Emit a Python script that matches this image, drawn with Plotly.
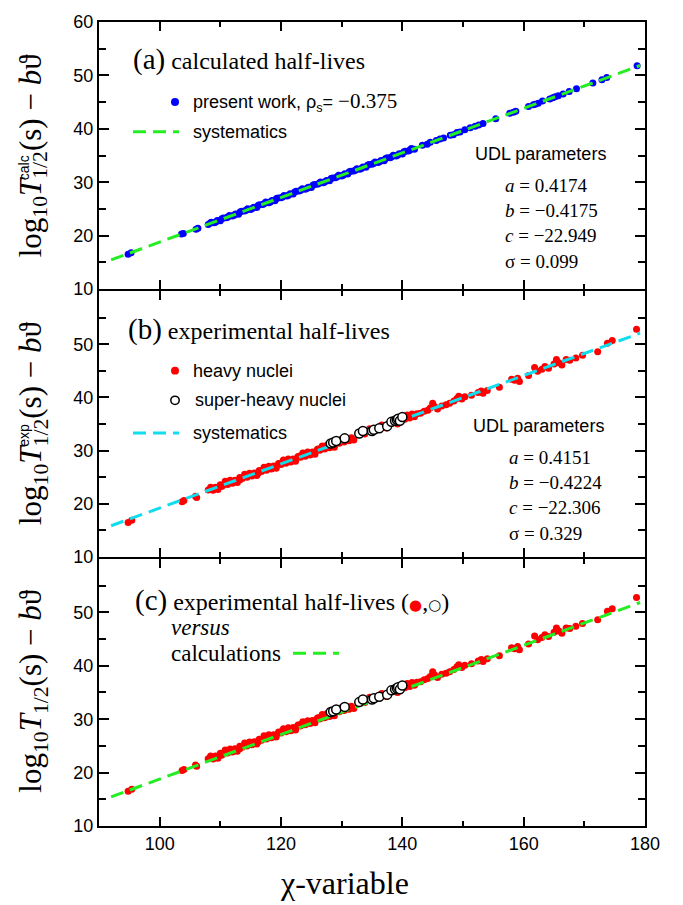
import plotly.graph_objects as go

# ---------------- data ----------------
# panel (a): calculated half-lives (chi, log10 T - b*theta)
calc_chi = [94.8, 95.3, 103.6, 103.9, 106.0, 106.3, 108.0, 108.3,
            108.5, 109.0, 109.5, 110.0, 110.5, 111.0, 111.5, 112.0, 112.5, 113.0, 113.5, 114.0,
            114.5, 115.0, 115.5, 116.0, 116.5, 117.0, 117.5, 118.0, 118.5, 119.0, 119.5, 120.0,
            120.5, 121.0, 121.5, 122.0, 122.5, 123.0, 123.5, 124.0, 124.5, 125.0, 125.5, 126.0,
            126.5, 127.0, 127.5, 128.0, 128.5, 129.0, 129.5, 130.0, 130.5, 131.0, 131.5, 132.0,
            132.5, 133.0, 133.5, 134.0, 134.5, 135.0, 135.5, 136.0, 136.5, 137.0, 137.5, 138.0,
            138.5, 139.0, 139.5, 140.0, 140.5, 141.0, 141.5, 142.0,
            109.25, 110.25, 111.25, 112.25, 113.25, 114.25, 115.25, 116.25, 117.25, 118.25,
            119.25, 120.25, 121.25, 122.25, 123.25, 124.25, 125.25, 126.25, 127.25, 128.25,
            129.25, 130.25, 131.25, 132.25, 133.25, 134.25, 135.25, 136.25, 137.25, 138.25,
            139.25, 140.25, 141.25,
            143.3, 144.1, 144.6, 145.6, 146.2, 146.8, 147.9, 148.4, 149.0, 149.5, 150.3, 151.2,
            152.0, 152.6, 153.3, 155.4, 157.7, 158.3, 158.7, 160.8, 161.6, 161.9, 162.4, 163.1,
            164.3, 164.8, 165.2, 165.7, 166.5, 167.5, 168.7, 171.4, 172.9, 173.7, 178.7]
calc_val = [16.5, 16.8, 20.3, 20.4, 21.2, 21.4, 22.1, 22.3,
            22.52, 22.40, 22.81, 22.77, 23.30, 23.34, 23.78, 23.65, 24.06, 24.02, 24.55, 24.59,
            25.03, 24.91, 25.32, 25.27, 25.80, 25.84, 26.28, 26.16, 26.57, 26.53, 27.06, 27.09,
            27.53, 27.41, 27.82, 27.78, 28.31, 28.35, 28.78, 28.66, 29.07, 29.03, 29.56, 29.60,
            30.04, 29.91, 30.32, 30.28, 30.81, 30.85, 31.29, 31.17, 31.57, 31.53, 32.06, 32.10,
            32.54, 32.42, 32.83, 32.78, 33.31, 33.35, 33.79, 33.67, 34.08, 34.04, 34.56, 34.60,
            35.04, 34.92, 35.33, 35.29, 35.82, 35.85, 36.29, 36.17,
            22.56, 23.18, 23.49, 23.81, 24.43, 24.74, 25.06, 25.68, 26.00, 26.31,
            26.93, 27.25, 27.56, 28.18, 28.50, 28.82, 29.43, 29.75, 30.07, 30.69,
            31.00, 31.32, 31.94, 32.25, 32.57, 33.19, 33.51, 33.82, 34.44, 34.76,
            35.08, 35.69, 36.01,
            36.9, 37.1, 37.5, 37.8, 38.1, 38.3, 38.8, 38.9, 39.3, 39.4, 39.8, 40.2,
            40.5, 40.7, 41.0, 41.9, 42.9, 43.1, 43.3, 44.2, 44.5, 44.6, 44.8, 45.2,
            45.6, 45.8, 46.0, 46.2, 46.5, 47.0, 47.5, 48.6, 49.2, 49.6, 51.8]

# experimental half-lives, heavy nuclei
heavy_chi = [94.8, 95.4, 103.7, 104.0, 105.9, 106.1, 108.0,
             108.4, 108.8, 109.2, 109.6, 110.0, 110.4, 110.8, 111.2, 111.6, 112.0, 112.4, 112.8,
             113.2, 113.6, 114.0, 114.4, 114.8, 115.2, 115.6, 116.0, 116.4, 116.8, 117.2, 117.6,
             118.0, 118.4, 118.8, 119.2, 119.6, 120.0, 120.4, 120.8, 121.2, 121.6, 122.0, 122.4,
             122.8, 123.2, 123.6, 124.0, 124.4, 124.8, 125.2, 125.6, 126.0, 126.4, 126.8, 127.2,
             127.6, 128.0, 128.4, 128.8, 129.2, 129.6, 130.0, 130.4, 130.8, 131.2, 131.6, 132.0,
             133.0, 133.8, 134.6, 135.6, 136.6, 137.4, 138.4, 139.2, 140.0, 140.4, 140.8, 141.2,
             141.6, 142.0, 142.4,
             110.2, 111.2, 112.2, 113.2, 114.2, 115.2, 116.2, 117.2, 118.2, 119.2, 120.2, 121.2,
             122.2, 123.2, 124.2, 125.2, 126.2, 127.2, 128.2, 129.2, 130.2, 131.2,
             143.0, 143.6, 144.2, 144.6, 145.0, 145.3, 145.8, 146.5, 147.2, 147.8, 148.5, 149.0,
             149.3, 149.8, 150.3, 151.4, 152.5, 153.0, 153.3, 154.0, 156.0, 158.0, 158.5, 159.0,
             159.3, 160.8, 161.8, 162.3, 163.0, 163.5, 164.1, 165.0, 165.4, 165.8, 166.3, 167.0,
             167.6, 168.6, 169.7, 172.2, 173.8, 174.6, 178.6]
heavy_val = [16.5, 16.9, 20.4, 20.6, 21.4, 21.2, 22.6,
             23.09, 22.55, 23.12, 22.68, 23.60, 23.42, 24.23, 23.65, 24.41, 23.88, 24.45, 24.01,
             24.93, 24.74, 25.56, 24.98, 25.74, 25.21, 25.77, 25.34, 26.26, 26.07, 26.89, 26.30,
             27.07, 26.54, 27.10, 26.67, 27.58, 27.40, 28.22, 27.63, 28.40, 27.86, 28.43, 28.00,
             28.91, 28.73, 29.54, 28.96, 29.73, 29.19, 29.76, 29.32, 30.24, 30.06, 30.87, 30.29,
             31.05, 30.52, 31.09, 30.65, 31.57, 31.38, 32.20, 31.62, 32.38, 31.85, 32.41, 31.98,
             33.15, 33.13, 34.12, 33.78, 34.80, 34.23, 35.25, 34.98, 36.06, 35.88, 36.69, 36.11,
             36.87, 36.34, 36.91,
             23.23, 24.05, 24.26, 24.48, 25.29, 25.51, 25.72, 26.54, 26.75, 26.97, 27.79, 28.00,
             28.22, 29.03, 29.25, 29.46, 30.28, 30.49, 30.71, 31.52, 31.74, 31.95,
             37.0, 37.4, 37.6, 38.0, 38.9, 38.3, 37.8, 38.4, 38.6, 38.9, 39.3, 39.8,
             40.2, 39.7, 40.1, 40.4, 40.9, 41.2, 40.8, 41.3, 41.9, 43.4, 43.2, 43.6,
             43.0, 44.1, 45.6, 44.9, 45.3, 45.8, 45.5, 46.3, 47.1, 46.5, 46.1, 47.1,
             47.0, 47.4, 47.9, 48.6, 50.2, 50.7, 52.8]

# experimental half-lives, super-heavy nuclei
sh_chi = [128.2, 128.6, 129.1, 130.5, 132.9, 133.5, 135.0, 135.3, 136.2, 137.5, 138.2, 138.8,
          139.1, 139.3, 139.6, 140.0]
sh_val = [31.35, 31.5, 31.8, 32.3, 33.2, 33.7, 33.7, 33.9, 34.2, 34.6, 35.4, 35.6,
          35.8, 36.0, 35.6, 36.3]

# systematics (UDL) lines: end points
sys_chi = [92.0, 179.2]
sys_calc = [15.45, 51.85]
sys_exp = [15.88, 52.08]

y_ticks = [10, 20, 30, 40, 50, 60]
y_minor = [15, 25, 35, 45, 55]
x_ticks = [100, 120, 140, 160, 180]
x_minor = [90, 110, 130, 150, 170]

# ---------------- layout helpers ----------------
W, H = 683, 905
L, R, T, B = 99, 645, 12, 826
PH = B - T
G = 1.0 / PH  # one pixel in paper units


def px(x, y):
    return (x - L) / (R - L), (B - y) / (B - T)


SANS = "Liberation Sans"
SERIF = "Liberation Serif"
BLUE = "#0000FF"
RED = "#FF0000"
GREEN = "#22EE22"
CYAN = "#11DDEE"
DASH = "13px,7px"

fig = go.Figure()

# panel a
fig.add_trace(go.Scatter(x=calc_chi, y=calc_val, mode="markers", xaxis="x", yaxis="y",
                         marker=dict(color=BLUE, size=7, line=dict(width=0)), showlegend=False))
fig.add_trace(go.Scatter(x=sys_chi, y=sys_calc, mode="lines", xaxis="x", yaxis="y",
                         line=dict(color=GREEN, width=3, dash=DASH), showlegend=False))
# panel b
fig.add_trace(go.Scatter(x=heavy_chi, y=heavy_val, mode="markers", xaxis="x2", yaxis="y2",
                         marker=dict(color=RED, size=7, line=dict(width=0)), showlegend=False))
fig.add_trace(go.Scatter(x=sys_chi, y=sys_exp, mode="lines", xaxis="x2", yaxis="y2",
                         line=dict(color=CYAN, width=3, dash=DASH), showlegend=False))
fig.add_trace(go.Scatter(x=sh_chi, y=sh_val, mode="markers", xaxis="x2", yaxis="y2",
                         marker=dict(color="white", size=9, line=dict(color="black", width=1.5)),
                         showlegend=False))
# panel c
fig.add_trace(go.Scatter(x=heavy_chi, y=heavy_val, mode="markers", xaxis="x3", yaxis="y3",
                         marker=dict(color=RED, size=7, line=dict(width=0)), showlegend=False))
fig.add_trace(go.Scatter(x=sys_chi, y=sys_calc, mode="lines", xaxis="x3", yaxis="y3",
                         line=dict(color=GREEN, width=3, dash=DASH), showlegend=False))
fig.add_trace(go.Scatter(x=sh_chi, y=sh_val, mode="markers", xaxis="x3", yaxis="y3",
                         marker=dict(color="white", size=9, line=dict(color="black", width=1.5)),
                         showlegend=False))


def xaxis(anchor, labels):
    return dict(range=[90, 180], domain=[0, 1], anchor=anchor, showline=True, linecolor="black",
                linewidth=2, mirror="allticks", ticks="inside", ticklen=9, tickwidth=2,
                tickcolor="black", tickmode="array", tickvals=x_ticks,
                minor=dict(tickmode="array", tickvals=x_minor, ticks="inside", ticklen=5,
                           tickwidth=2, tickcolor="black"),
                showgrid=False, zeroline=False, showticklabels=labels,
                tickfont=dict(family=SANS, size=18, color="black"))


def yaxis(anchor, dom, top_label):
    txt = [str(v) for v in y_ticks]
    if not top_label:
        txt[-1] = ""
    return dict(range=[10, 60], domain=dom, anchor=anchor, showline=True, linecolor="black",
                linewidth=2, mirror="allticks", ticks="inside", ticklen=10, tickwidth=2,
                tickcolor="black", tickmode="array", tickvals=y_ticks, ticktext=txt,
                minor=dict(tickmode="array", tickvals=y_minor, ticks="inside", ticklen=7,
                           tickwidth=2, tickcolor="black"),
                showgrid=False, zeroline=False,
                tickfont=dict(family=SANS, size=18, color="black"))


annotations = []
shapes = []


def text(x, y, s, size=18, family=SANS, xanchor="left", angle=0):
    xp, yp = px(x, y)
    annotations.append(dict(x=xp, y=yp, xref="paper", yref="paper", text=s, showarrow=False,
                            xanchor=xanchor, yanchor="middle", textangle=angle,
                            font=dict(family=family, size=size, color="black")))


def dash(x0, x1, y, color):
    a0, b0 = px(x0, y)
    a1, _ = px(x1, y)
    shapes.append(dict(type="line", xref="paper", yref="paper", x0=a0, x1=a1, y0=b0, y1=b0,
                       line=dict(color=color, width=3, dash=DASH)))


def dot(x, y, r, fill, line_color=None, lw=0):
    a0, b0 = px(x - r, y + r)
    a1, b1 = px(x + r, y - r)
    shapes.append(dict(type="circle", xref="paper", yref="paper", x0=a0, x1=a1, y0=b0, y1=b1,
                       fillcolor=fill, line=dict(color=line_color or fill, width=lw)))


# y-axis titles
title_main = "log<sub>10</sub><i>T</i><sub>1/2</sub>(s) − <i>b</i>ϑ"
text(33, 148, title_main, size=31, family=SERIF, xanchor="center", angle=-90)
text(24, 160, "calc", size=14, family=SANS, xanchor="center", angle=-90)
text(33, 419, title_main, size=31, family=SERIF, xanchor="center", angle=-90)
text(24, 431, "exp", size=14, family=SANS, xanchor="center", angle=-90)
text(33, 690, title_main, size=31, family=SERIF, xanchor="center", angle=-90)
# x-axis title
text(344, 884, "χ-variable", size=32, family=SERIF, xanchor="center")

# panel a texts
text(131, 50, "<span style='font-size:29px'>(a)</span> calculated half-lives", size=24, family=SERIF)
dot(175, 93, 4, BLUE)
text(191, 93, "present work, ρ<sub>s</sub>= <span style='font-family:Liberation Serif;font-size:21px'>−0.375</span>")
dash(133, 179, 123, GREEN)
text(191, 123, "systematics")
text(473, 146, "UDL parameters")
for yy, s in zip([178, 203, 228, 254], ["<i>a</i> = 0.4174", "<i>b</i> = −0.4175",
                                        "<i>c</i> = −22.949", "σ = 0.099"]):
    text(503, yy, s, size=19, family=SERIF)

# panel b texts
text(126, 323, "<span style='font-size:29px'>(b)</span> experimental half-lives", size=24, family=SERIF)
dot(175, 365, 4, RED)
text(191, 365, "heavy nuclei")
dot(175, 395, 4.2, "white", "black", 1.5)
text(193, 395, "super-heavy nuclei")
dash(133, 179, 428, CYAN)
text(191, 428, "systematics")
text(471, 421, "UDL parameters")
for yy, s in zip([453, 478, 504, 530], ["<i>a</i> = 0.4151", "<i>b</i> = −0.4224",
                                        "<i>c</i> = −22.306", "σ = 0.329"]):
    text(507, yy, s, size=19, family=SERIF)

# panel c texts
text(133, 598, "<span style='font-size:29px'>(c)</span> experimental half-lives "
     "(<span style='color:#FF0000;font-family:DejaVu Sans;font-size:15px'>●</span>,"
     "<span style='font-family:DejaVu Sans;font-size:15px'>○</span>)", size=24, family=SERIF)
text(169, 625, "<i>versus</i>", size=23, family=SERIF)
text(169, 651, "calculations", size=23, family=SERIF)
dash(293, 339, 651, GREEN)

fig.update_layout(
    width=W, height=H, margin=dict(l=L, r=W - R, t=T, b=H - B),
    plot_bgcolor="white", paper_bgcolor="white",
    xaxis=xaxis("y", False), yaxis=yaxis("x", [2 / 3 + G, 1], True),
    xaxis2=xaxis("y2", False), yaxis2=yaxis("x2", [1 / 3 + G, 2 / 3 - G], False),
    xaxis3=xaxis("y3", True), yaxis3=yaxis("x3", [0, 1 / 3 - G], False),
    annotations=annotations, shapes=shapes, showlegend=False,
)

fig.write_html("out.html")
